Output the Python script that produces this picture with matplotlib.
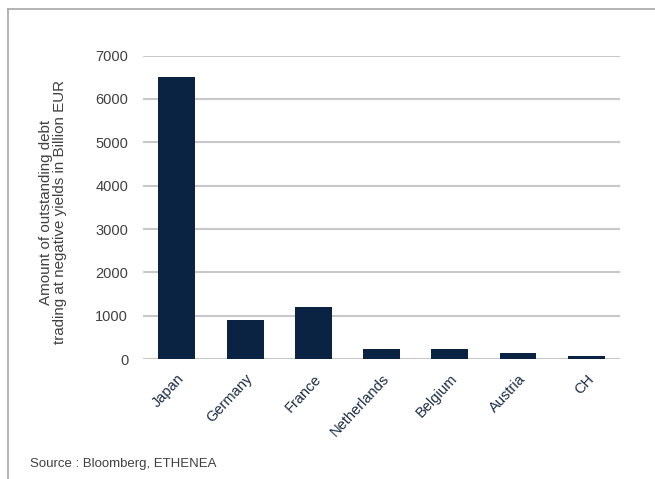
import matplotlib.pyplot as plt
from matplotlib.lines import Line2D

plt.rcParams['font.family'] = ['Liberation Sans', 'DejaVu Sans']

countries = ["Japan", "Germany", "France", "Netherlands", "Belgium", "Austria", "CH"]
debt_bn_eur = [6500, 900, 1200, 235, 225, 145, 75]
y_ticks = [0, 1000, 2000, 3000, 4000, 5000, 6000, 7000]

BAR_COLOR = "#0b2343"
GRID_COLOR = "#c8c8c8"
TEXT_COLOR = "#404040"

fig = plt.figure(figsize=(6.55, 4.79), dpi=100)
ax = fig.add_axes([0.218, 0.250, 0.729, 0.634])

ax.bar(range(len(countries)), debt_bn_eur, width=0.54, color=BAR_COLOR, zorder=3)

ax.set_xlim(-0.5, len(countries) - 0.5)
ax.set_ylim(0, 7000)
ax.set_yticks(y_ticks)
ax.set_yticklabels([str(t) for t in y_ticks], fontsize=10.5, color=TEXT_COLOR)
ax.set_xticks(range(len(countries)))
ax.set_xticklabels(countries, rotation=47, ha='right', rotation_mode='anchor',
                   fontsize=10.5, color="#1c2b45")
ax.tick_params(axis='y', length=0, pad=10.5)
ax.tick_params(axis='x', length=0, pad=9)
ax.grid(True, axis='y', color=GRID_COLOR, linewidth=1.5, zorder=0)
for side in ax.spines.values():
    side.set_visible(False)

fig.text(53 / 655, 1 - 212 / 479,
         "Amount of outstanding debt\ntrading at negative yields in Billion EUR",
         rotation=90, ha='center', va='center', fontsize=10.9,
         color=TEXT_COLOR, linespacing=0.98)

fig.text(30 / 655, 1 - 464 / 479, "Source : Bloomberg, ETHENEA",
         fontsize=9.5, color=TEXT_COLOR, va='center')

# frame around the chart (top and left edges visible)
fig.add_artist(Line2D([8 / 655, 1], [1 - 9 / 479, 1 - 9 / 479],
                      transform=fig.transFigure, color="#a8a8a8", linewidth=1.2))
fig.add_artist(Line2D([8 / 655, 8 / 655], [0, 1 - 9 / 479],
                      transform=fig.transFigure, color="#a8a8a8", linewidth=1.2))

fig.savefig("out.png", dpi=100)
